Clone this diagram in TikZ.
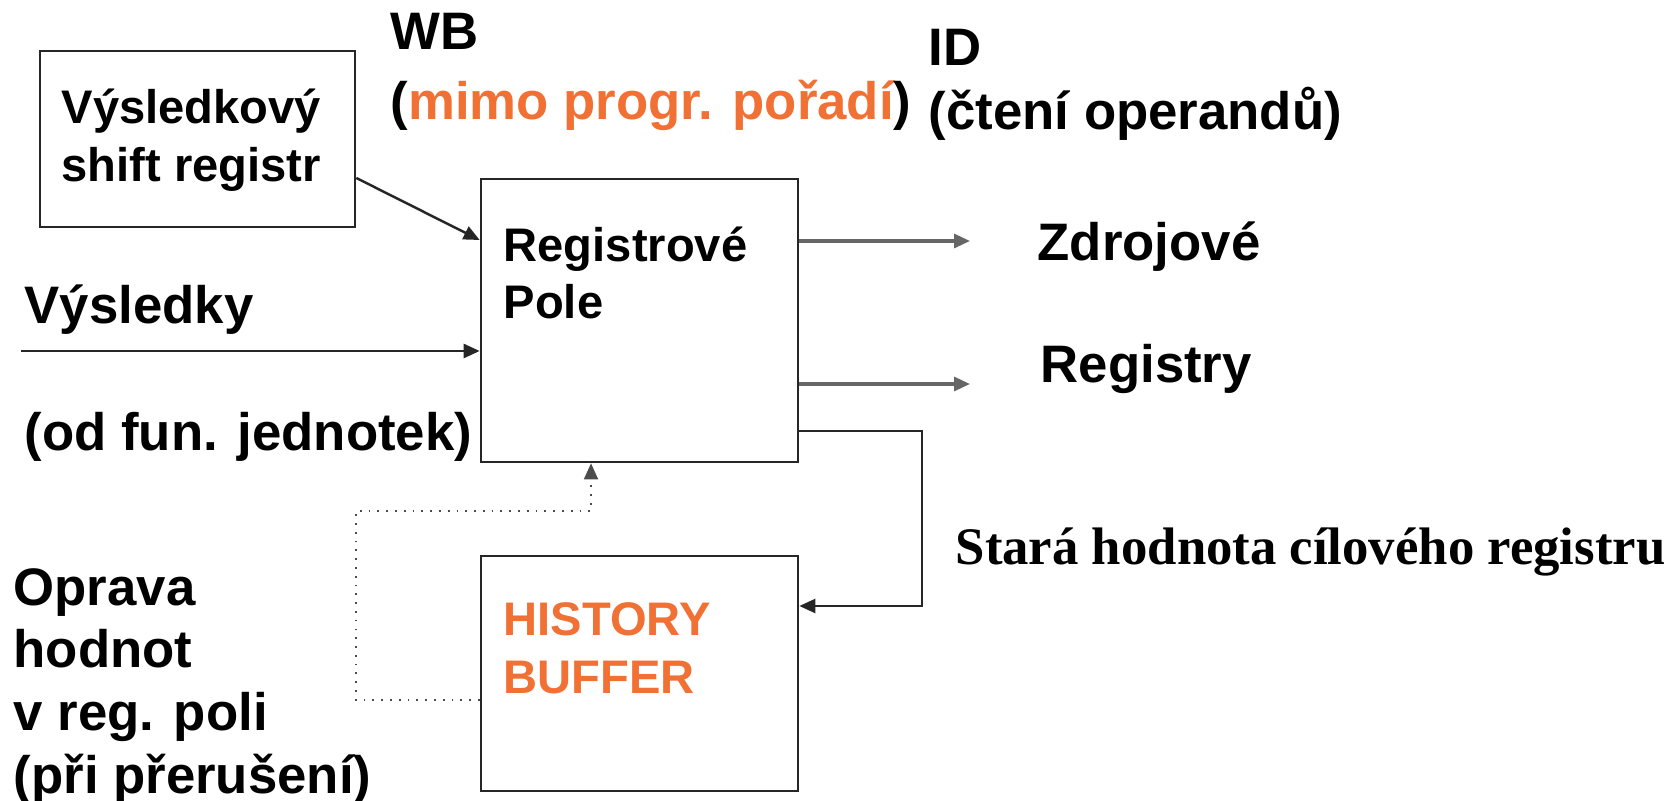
\documentclass[tikz,border=0pt]{standalone}
\usepackage{fontspec}
\setmainfont{Liberation Sans}
\newfontfamily\timesfont{Liberation Serif}
\usetikzlibrary{positioning,arrows.meta}
\definecolor{hborange}{RGB}{241,112,52}

\begin{document}
\begin{tikzpicture}[x=0.01cm, y=-0.01cm,
  blk/.style={draw=black!85, line width=0.7pt, inner sep=0},
  lbl/.style={font=\bfseries\fontsize{15}{17.8}\selectfont, anchor=base west,
              inner sep=0, align=left},
  inlbl/.style={font=\bfseries\fontsize{13.4}{16.4}\selectfont, anchor=base west,
                inner sep=0, align=left},
  arr/.style={-{Triangle[length=1.6mm,width=1.4mm]}, line width=0.7pt, draw=black!85},
  outarr/.style={arr, draw=black!60, line width=0.9pt}]
\useasboundingbox (0,0) rectangle (1677,801);
% boxes
\node[blk, minimum width=3.15cm, minimum height=1.76cm] (shift) at (197.5,139) {};
\node[blk, minimum width=3.17cm, minimum height=2.83cm] (reg) at (639.5,320.5) {};
\node[blk, minimum width=3.17cm, minimum height=2.35cm] (hist) at (639.5,673.5) {};
\node[inlbl] (shifttxt) at (61,182) {Výsledkový\\[0.3pt]shift registr};
\node[inlbl] (regtxt) at (503,319) {Registrové\\Pole};
\node[inlbl, text=hborange] (histtxt) at (503,693) {HISTORY\\BUFFER};
% labels
\node[lbl] (wb) at (390,50) {WB};
\node[lbl] (wbnote) at (390,120) {(\textcolor{hborange}{mimo progr. pořadí})};
\node[lbl] (id) at (928,66) {ID};
\node[lbl] (idnote) at (928,130) {(čtení operandů)};
\node[lbl] (zdroj) at (1037,261) {Zdrojové};
\node[lbl] (regs) at (1040,383) {Registry};
\node[lbl] (vysl) at (24,324) {Výsledky};
\node[lbl] (vyslnote) at (24,451) {(od fun. jednotek)};
\node[lbl] (oprava) at (13,793) {Oprava\\hodnot\\v reg. poli\\(při přerušení)};
\node[anchor=base west, inner sep=0, font=\timesfont\bfseries\fontsize{15}{18}\selectfont]
  (stara) at (955,565) {Stará hodnota cílového registru};
% connectors
\coordinate (vin) at (21,351);
\coordinate (zout) at (970,241);
\coordinate (rout) at (970,384);
\draw[arr] (shift.east |- 0,178) -- (reg.west |- 0,240);
\draw[arr] (vin) -- (reg.west |- vin);
\draw[outarr] (reg.east |- zout) -- (zout);
\draw[outarr] (reg.east |- rout) -- (rout);
\draw[arr] (reg.east |- 0,431) -| (922,606) -- (hist.east |- 0,606);
\draw[arr, draw=black!70, line width=0.5pt, dotted]
  (hist.west |- 0,700) -| (356,511) -| (591,0 |- reg.south);
\end{tikzpicture}
\end{document}
